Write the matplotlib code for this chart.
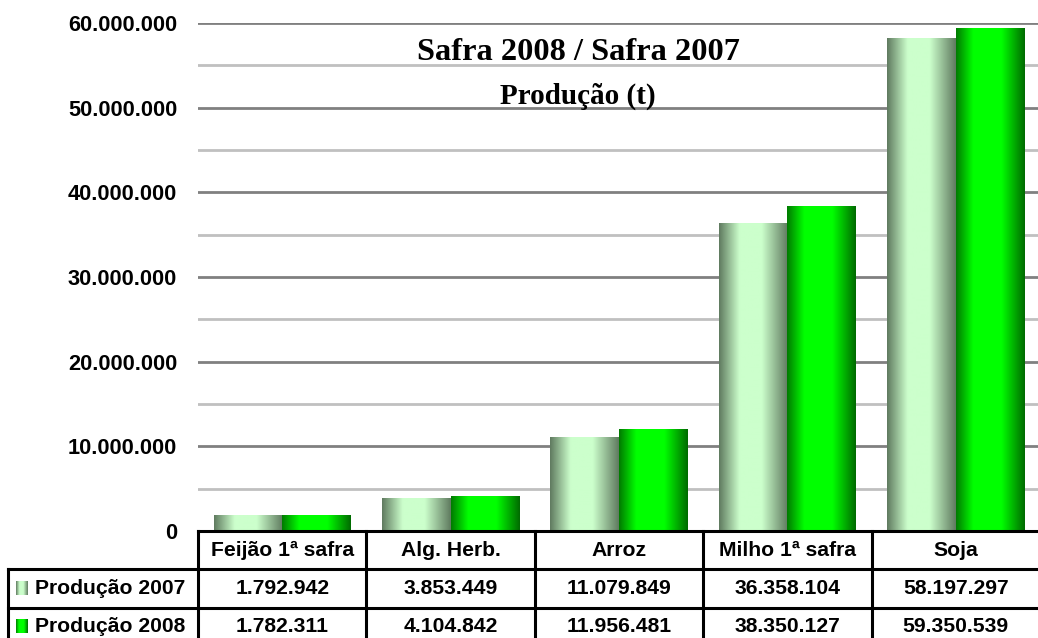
import numpy as np
import matplotlib.pyplot as plt
from matplotlib.colors import LinearSegmentedColormap
from matplotlib.transforms import blended_transform_factory

categories = ['Feijão 1ª safra', 'Alg. Herb.', 'Arroz', 'Milho 1ª safra', 'Soja']
series_names = ['Produção 2007', 'Produção 2008']
prod_2007 = [1792942, 3853449, 11079849, 36358104, 58197297]
prod_2008 = [1782311, 4104842, 11956481, 38350127, 59350539]

W, H = 1038, 638
fig = plt.figure(figsize=(W / 100, H / 100), dpi=100)

# plot area in pixels: x 198..1040, y 23..531
ax = fig.add_axes([198 / W, 1 - 531 / H, 842 / W, 508 / H])

cmap07 = LinearSegmentedColormap.from_list(
    'c07', [(0, '#5f7a5f'), (0.3, '#ccffcc'), (0.62, '#ccffcc'), (1, '#5f7a5f')])
cmap08 = LinearSegmentedColormap.from_list(
    'c08', [(0, '#007a00'), (0.25, '#00ff00'), (0.66, '#00ff00'), (1, '#006a00')])
grad = np.linspace(0, 1, 256).reshape(1, -1)

x = np.arange(len(categories))
bw = 0.407
for vals, off, cm in [(prod_2007, -bw / 2, cmap07), (prod_2008, bw / 2, cmap08)]:
    bars = ax.bar(x + off, vals, bw, color='none', zorder=3)
    for b in bars:
        bx, by, bwid, bh = b.get_x(), b.get_y(), b.get_width(), b.get_height()
        ax.imshow(grad, extent=[bx, bx + bwid, by, by + bh], aspect='auto',
                  cmap=cm, interpolation='bilinear', zorder=3)

ax.set_xlim(-0.5, len(categories) - 0.5)
ax.set_ylim(0, 60000000)
ax.set_yticks(np.arange(0, 60000001, 10000000))
ax.set_yticks(np.arange(5000000, 60000000, 10000000), minor=True)
ax.set_yticklabels([f'{int(v):,}'.replace(',', '.') for v in ax.get_yticks()],
                   fontsize=15.7, fontweight='bold', family='Liberation Sans')
ax.tick_params(axis='y', which='both', length=0, pad=15)
ax.tick_params(axis='x', length=0, labelbottom=False)
ax.grid(axis='y', which='major', color='#808080', lw=2, zorder=1)
ax.grid(axis='y', which='minor', color='#c0c0c0', lw=2, zorder=1)
for s in ax.spines.values():
    s.set_visible(False)

fig.text(578 / W, 1 - 52 / H, 'Safra 2008 / Safra 2007', ha='center', va='center',
         fontsize=23.3, fontweight='bold', family='Liberation Serif')
fig.text(578 / W, 1 - 96 / H, 'Produção (t)', ha='center', va='center',
         fontsize=21, fontweight='bold', family='Liberation Serif')

# data table below the axis
tr = blended_transform_factory(ax.transData, fig.transFigure)
def py(p):
    return 1 - p / H

row_y = [531, 569, 608, 647]
lw = 2.2
ax.plot([-0.5, 4.6], [py(531)] * 2, color='black', lw=lw, transform=tr, clip_on=False, zorder=5)
for yy in row_y[1:3]:
    fig.add_artist(plt.Line2D([8 / W, 1], [py(yy)] * 2, color='black', lw=lw))
for i in range(len(categories) + 1):
    ax.plot([i - 0.5] * 2, [py(531), py(647)], color='black', lw=lw,
            transform=tr, clip_on=False, zorder=5)
fig.add_artist(plt.Line2D([8 / W] * 2, [py(569), py(647)], color='black', lw=lw))

tfont = dict(fontsize=15.2, fontweight='bold', family='Liberation Sans', ha='center', va='center')
for i, c in enumerate(categories):
    ax.text(i, py(550), c, transform=tr, **tfont)
    ax.text(i, py(588), f'{prod_2007[i]:,}'.replace(',', '.'), transform=tr, **tfont)
    ax.text(i, py(626), f'{prod_2008[i]:,}'.replace(',', '.'), transform=tr, **tfont)

for name, cm, yc in [(series_names[0], cmap07, 588), (series_names[1], cmap08, 626)]:
    kax = fig.add_axes([16 / W, py(yc + 7), 12 / W, 14 / H])
    kax.imshow(grad, aspect='auto', cmap=cm, interpolation='bilinear')
    kax.axis('off')
    fig.text(35 / W, py(yc), name, ha='left', va='center', fontsize=15.2,
             fontweight='bold', family='Liberation Sans')

fig.savefig('out.png', dpi=100)
